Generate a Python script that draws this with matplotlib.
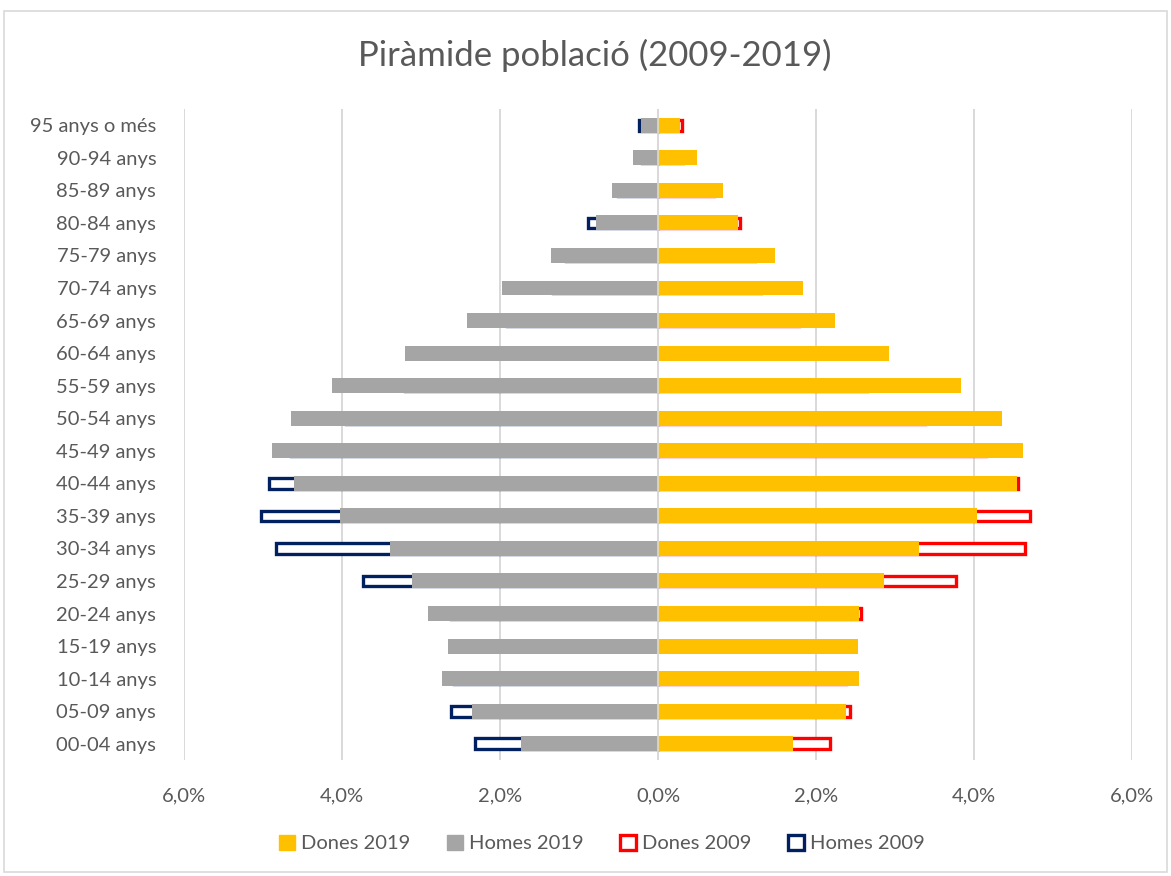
import matplotlib.pyplot as plt
from matplotlib.patches import Patch, Rectangle
from matplotlib.ticker import FuncFormatter

plt.rcParams['font.family'] = ['Lato', 'DejaVu Sans']

# age groups, bottom to top
groups = ['00-04 anys', '05-09 anys', '10-14 anys', '15-19 anys', '20-24 anys',
          '25-29 anys', '30-34 anys', '35-39 anys', '40-44 anys', '45-49 anys',
          '50-54 anys', '55-59 anys', '60-64 anys', '65-69 anys', '70-74 anys',
          '75-79 anys', '80-84 anys', '85-89 anys', '90-94 anys', '95 anys o més']

# share of total population, %
dones_2019 = [1.71, 2.38, 2.54, 2.53, 2.55, 2.86, 3.31, 4.04, 4.55, 4.62,
              4.36, 3.84, 2.92, 2.24, 1.84, 1.48, 1.01, 0.82, 0.50, 0.28]
homes_2019 = [1.73, 2.36, 2.73, 2.66, 2.91, 3.11, 3.39, 4.03, 4.61, 4.88,
              4.64, 4.13, 3.20, 2.42, 1.97, 1.35, 0.78, 0.58, 0.31, 0.22]
dones_2009 = [2.18, 2.43, 2.38, 2.20, 2.57, 3.77, 4.64, 4.71, 4.56, 4.15,
              3.38, 2.65, 2.19, 1.78, 1.31, 1.23, 1.04, 0.71, 0.32, 0.30]
homes_2009 = [2.31, 2.62, 2.58, 2.45, 2.62, 3.74, 4.84, 5.03, 4.92, 4.64,
              3.95, 3.20, 2.62, 1.91, 1.33, 1.16, 0.89, 0.50, 0.20, 0.24]

gold = '#FFC000'
grey = '#A5A5A5'
red = '#FF0000'
navy = '#002060'
txt = '#595959'

fig = plt.figure(figsize=(11.71, 8.76), dpi=100)
fig.patches.append(Rectangle((0.003, 0.004), 0.994, 0.984, transform=fig.transFigure,
                             fill=False, edgecolor='#d9d9d9', linewidth=1.2))
ax = fig.add_axes([0.1571, 0.1324, 0.8096, 0.7432])

y = range(len(groups))
h = 0.46
h_out = 0.33

# 2009 outlines behind, 2019 filled bars on top
ax.barh(y, [-v for v in homes_2009], height=h_out, facecolor='white',
        edgecolor=navy, linewidth=2.4, zorder=2)
ax.barh(y, dones_2009, height=h_out, facecolor='white',
        edgecolor=red, linewidth=2.4, zorder=2)
ax.barh(y, [-v for v in homes_2019], height=h, color=grey, zorder=3)
ax.barh(y, dones_2019, height=h, color=gold, zorder=3)

ax.axvline(0, color='#d9d9d9', linewidth=1.2, zorder=4)

ax.set_xlim(-6, 6)
ax.set_ylim(-0.5, len(groups) - 0.5)
ax.set_xticks([-6, -4, -2, 0, 2, 4, 6])
ax.xaxis.set_major_formatter(FuncFormatter(lambda v, p: f'{abs(v):.1f}%'.replace('.', ',')))
ax.set_yticks(list(y))
ax.set_yticklabels(groups)
ax.grid(axis='x', color='#d9d9d9', linewidth=1.4, zorder=0)
ax.set_axisbelow(True)
for s in ax.spines.values():
    s.set_visible(False)
ax.tick_params(axis='both', length=0, labelcolor=txt, labelsize=14.5)
ax.tick_params(axis='x', pad=20)
ax.tick_params(axis='y', pad=20)

fig.text(0.508, 0.937, 'Piràmide població (2009-2019)', ha='center', va='center',
         fontsize=25, color=txt)

handles = [Patch(facecolor=gold, edgecolor=gold),
           Patch(facecolor=grey, edgecolor=grey),
           Patch(facecolor='white', edgecolor=red, linewidth=2.4),
           Patch(facecolor='white', edgecolor=navy, linewidth=2.4)]
labels = ['Dones 2019', 'Homes 2019', 'Dones 2009', 'Homes 2009']
fig.legend(handles, labels, loc='center', bbox_to_anchor=(0.514, 0.037), ncol=4,
           frameon=False, fontsize=14.5, labelcolor=txt, handlelength=0.8,
           handleheight=0.8, handletextpad=0.3, columnspacing=1.8)

fig.savefig('out.png', dpi=100)
